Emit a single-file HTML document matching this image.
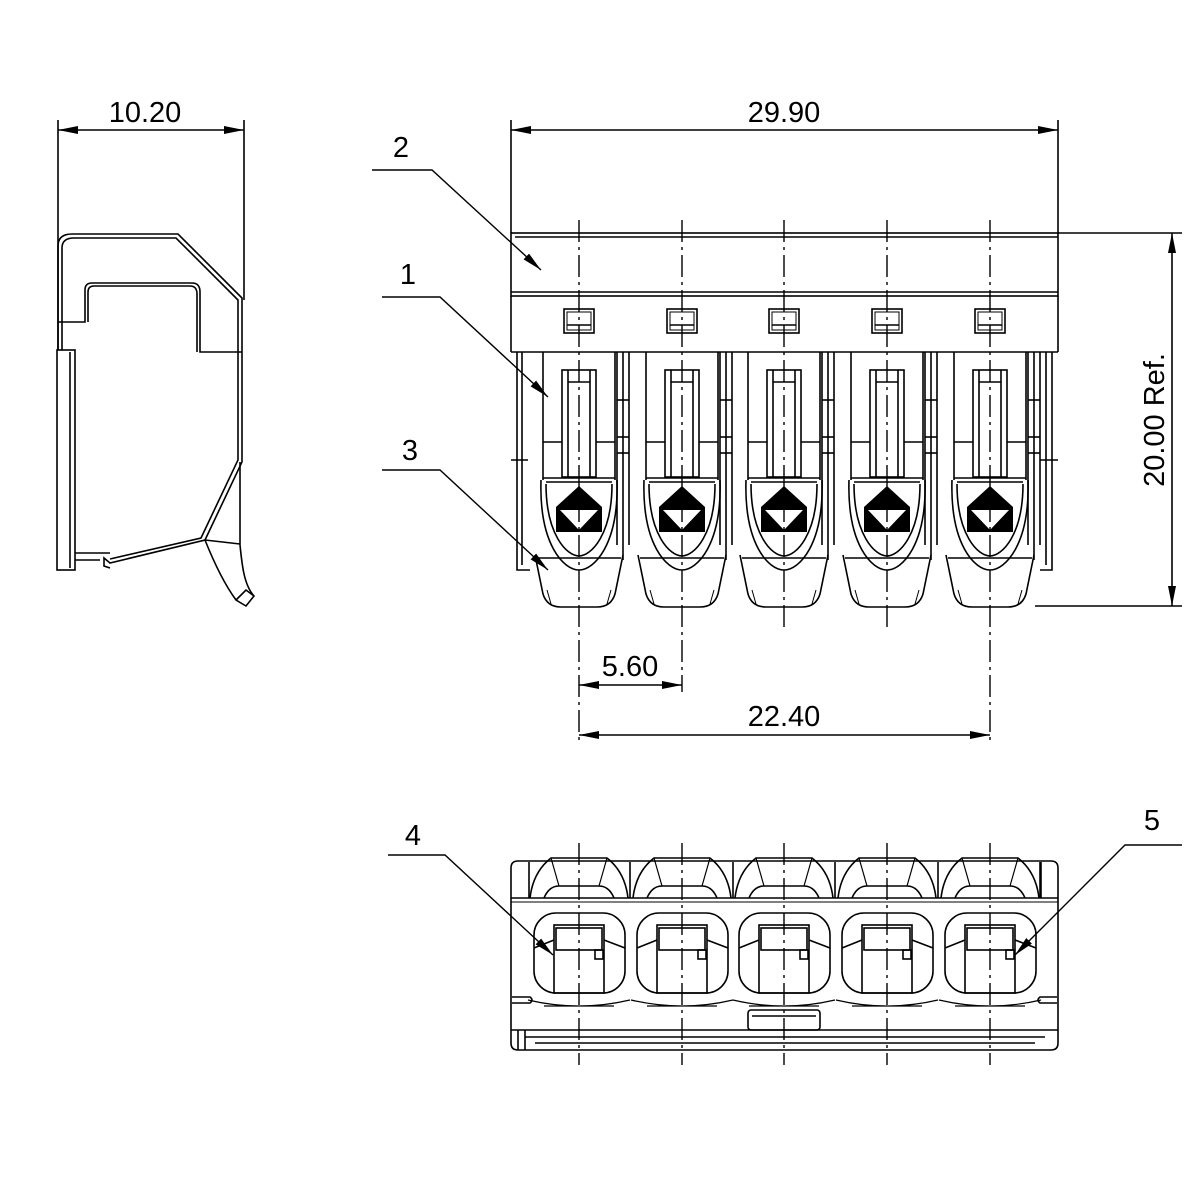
<!DOCTYPE html>
<html><head><meta charset="utf-8"><style>
html,body{margin:0;padding:0;background:#fff}
svg{display:block}
text{font-family:"Liberation Sans",sans-serif;font-size:29px;fill:#000}
</style></head><body>
<svg width="1200" height="1200" viewBox="0 0 1200 1200" xmlns="http://www.w3.org/2000/svg">
<defs>
<marker id="ar" viewBox="0 0 20 8" refX="20" refY="4" markerWidth="20" markerHeight="8" markerUnits="userSpaceOnUse" orient="auto-start-reverse"><path d="M0,0 L20,4 L0,8 Z" fill="#000"/></marker>
<g id="pole" fill="none" stroke="#000" stroke-width="1.6">
  <rect x="-15" y="309" width="30" height="24"/>
  <rect x="-12" y="312" width="24" height="18" stroke-width="1"/>
  <line x1="-12" y1="325" x2="12" y2="325"/>
  <line x1="-36" y1="352" x2="-36" y2="480"/>
  <line x1="36" y1="352" x2="36" y2="480"/>
  <rect x="-17" y="370" width="34" height="107"/>
  <line x1="-11" y1="370" x2="-11" y2="477"/><line x1="11" y1="370" x2="11" y2="477"/>
  <line x1="-11" y1="382" x2="11" y2="382"/>
  <line x1="-36" y1="442" x2="-17" y2="442"/><line x1="17" y1="442" x2="36" y2="442"/>
  <line x1="-36" y1="478" x2="36" y2="478"/>
  <line x1="-33" y1="482" x2="33" y2="482"/>
  <path d="M-38,480 C-40,545 -15,570 0,570 C15,570 40,545 38,480"/>
  <path d="M-33,484 C-33,535 -12,556 0,556 C12,556 33,535 33,484"/>
  <line x1="-42" y1="558" x2="42" y2="558"/>
  <path d="M-44,555 L-36,594 Q-32,607 -18,607 L18,607 Q32,607 36,594 L44,555"/>
  <path d="M-32,590 L-28,604 M32,590 L28,604" stroke-width="1"/>
  <path d="M-23,507 L0,486 L23,507 L23,532 L-23,532 Z" fill="#000" stroke="none"/>
  <path d="M-19,510 L19,510 L0,530 Z" fill="#fff" stroke="none"/>
  <line x1="38" y1="352" x2="38" y2="545"/><line x1="44" y1="352" x2="44" y2="560"/><line x1="50" y1="352" x2="50" y2="545"/>
  <line x1="38" y1="437" x2="50" y2="437"/><line x1="38" y1="453" x2="50" y2="453"/>
  <line x1="38" y1="400" x2="50" y2="400"/>
</g>
<g id="bpole" fill="none" stroke="#000" stroke-width="1.6">
  <path d="M-49,898 Q-46,872 -28,858 L28,858 Q46,872 49,898"/>
  <path d="M-35,898 Q-30,886 -20,886 L20,886 Q30,886 35,898"/>
  <path d="M-28,858 L-20,886 M28,858 L20,886" stroke-width="1.2"/>
  <line x1="51" y1="862" x2="51" y2="898"/>
  <rect x="-45" y="913" width="91" height="80" rx="22"/>
  <rect x="-25" y="925" width="50" height="68"/>
  <rect x="-23" y="928" width="46" height="22"/>
  <rect x="16" y="950" width="8" height="9"/>
  <path d="M-45,948 L-25,940 M46,948 L25,940"/>
  <path d="M-51,1000 Q0,1012 51,1000 M-35,1006 L35,1006" stroke-width="1.2"/>
</g>
</defs>

<!-- SIDE VIEW -->
<g fill="none" stroke="#000" stroke-width="1.6">
  <line x1="58" y1="120" x2="58" y2="350"/>
  <line x1="244" y1="120" x2="244" y2="300"/>
  <line x1="58" y1="130" x2="244" y2="130" marker-start="url(#ar)" marker-end="url(#ar)"/>
  <path d="M58,350 L58,246 Q58,234 72,234 L178,234 L242,298 L242,462 L205,540 L110,563 L104,558 L104,566 L110,568"/>
  <path d="M62,350 L62,248 Q62,238 74,238 L176,238 L238,300 L238,460 L201,538 L110,559"/>
  <path d="M58,322 L85,322 L85,290 Q85,283 92,283 L192,283 Q200,283 200,292 L200,352 L242,352"/>
  <path d="M88,322 L88,292 Q88,286 94,286 L190,286 Q197,286 197,294 L197,352"/>
  <rect x="57" y="350" width="18" height="220"/>
  <line x1="70" y1="352" x2="70" y2="568"/>
  <path d="M75,553 L110,553 M75,560 L100,560"/>
  <path d="M205,540 C215,565 225,585 236,600 L246,606 L254,596 C244,585 242,565 240,545"/>
  <path d="M205,540 L240,544 M236,600 L246,590 L254,596"/>
  <line x1="240" y1="462" x2="240" y2="545"/>
</g>
<text x="145" y="122" text-anchor="middle">10.20</text>

<!-- FRONT VIEW -->
<g fill="none" stroke="#000" stroke-width="1.6">
  <line x1="511" y1="120" x2="511" y2="233"/>
  <line x1="1058" y1="120" x2="1058" y2="233"/>
  <line x1="511" y1="130" x2="1058" y2="130" marker-start="url(#ar)" marker-end="url(#ar)"/>
  <rect x="511" y="233" width="547" height="63"/>
  <line x1="515" y1="237" x2="1058" y2="237"/>
  <line x1="511" y1="292" x2="1058" y2="292"/>
  <line x1="511" y1="296" x2="511" y2="352"/><line x1="1058" y1="296" x2="1058" y2="352"/>
  <line x1="511" y1="352" x2="1058" y2="352"/>
  <path d="M517,352 L517,570 L530,570 M522,352 L522,565"/>
  <line x1="511" y1="460" x2="528" y2="460"/>
  <path d="M1052,352 L1052,570 L1040,570 M1046,352 L1046,565 M1040,460 L1058,460"/>
  <line x1="1058" y1="233" x2="1182" y2="233"/>
  <line x1="1035" y1="606" x2="1182" y2="606"/>
  <line x1="1172" y1="233" x2="1172" y2="606" marker-start="url(#ar)" marker-end="url(#ar)"/>
</g>
<use href="#pole" x="579"/><use href="#pole" x="682"/><use href="#pole" x="784"/><use href="#pole" x="887"/><use href="#pole" x="990"/>
<g fill="none" stroke="#000" stroke-width="1.4" stroke-dasharray="22,5,3,5">
  <line x1="579" y1="220" x2="579" y2="745"/>
  <line x1="682" y1="220" x2="682" y2="692"/>
  <line x1="784" y1="220" x2="784" y2="628"/>
  <line x1="887" y1="220" x2="887" y2="628"/>
  <line x1="990" y1="220" x2="990" y2="745"/>
</g>
<g fill="none" stroke="#000" stroke-width="1.6">
  <line x1="579" y1="685" x2="682" y2="685" marker-start="url(#ar)" marker-end="url(#ar)"/>
  <line x1="579" y1="735" x2="990" y2="735" marker-start="url(#ar)" marker-end="url(#ar)"/>
</g>
<text x="784" y="122" text-anchor="middle">29.90</text>
<text x="630" y="676" text-anchor="middle">5.60</text>
<text x="784" y="726" text-anchor="middle">22.40</text>
<text x="0" y="0" text-anchor="middle" transform="translate(1164,420) rotate(-90)">20.00 Ref.</text>

<!-- leaders -->
<g fill="none" stroke="#000" stroke-width="1.4">
  <path d="M372,170 L432,170 L541,270" marker-end="url(#ar)"/>
  <path d="M382,297 L440,297 L548,397" marker-end="url(#ar)"/>
  <path d="M382,470 L440,470 L548,570" marker-end="url(#ar)"/>
  <path d="M388,855 L445,855 L553,955" marker-end="url(#ar)"/>
  <path d="M1182,845 L1125,845 L1015,955" marker-end="url(#ar)"/>
</g>
<text x="401" y="157" text-anchor="middle" font-size="34">2</text>
<text x="408" y="284" text-anchor="middle" font-size="34">1</text>
<text x="410" y="460" text-anchor="middle" font-size="34">3</text>
<text x="413" y="845" text-anchor="middle" font-size="34">4</text>
<text x="1152" y="830" text-anchor="middle" font-size="34">5</text>

<!-- BOTTOM VIEW -->
<g fill="none" stroke="#000" stroke-width="1.6">
  <path d="M511,868 Q511,861 518,861 L1051,861 Q1058,861 1058,868 L1058,1043 Q1058,1050 1051,1050 L518,1050 Q511,1050 511,1043 Z"/>
  <line x1="511" y1="898" x2="1058" y2="898"/>
  <line x1="511" y1="902" x2="1058" y2="902" stroke-width="1"/>
  <line x1="529" y1="862" x2="529" y2="898"/><line x1="1040" y1="862" x2="1040" y2="898"/>
  <line x1="511" y1="1030" x2="1058" y2="1030"/>
  <line x1="525" y1="1037" x2="1045" y2="1037"/>
  <line x1="535" y1="1043" x2="1035" y2="1043"/>
  <line x1="518" y1="1030" x2="518" y2="1050"/><line x1="525" y1="1030" x2="525" y2="1050"/>
  <rect x="748" y="1010" width="72" height="20" rx="3"/>
  <line x1="752" y1="1016" x2="816" y2="1016"/>
  <path d="M512,997 L530,997 Q534,1000 530,1003 L512,1003"/>
  <path d="M1057,997 L1040,997 Q1036,1000 1040,1003 L1057,1003"/>
</g>
<use href="#bpole" x="579"/><use href="#bpole" x="682"/><use href="#bpole" x="784"/><use href="#bpole" x="887"/><use href="#bpole" x="990"/>
<g fill="none" stroke="#000" stroke-width="1.4" stroke-dasharray="22,5,3,5">
  <line x1="579" y1="843" x2="579" y2="1065"/>
  <line x1="682" y1="843" x2="682" y2="1065"/>
  <line x1="784" y1="843" x2="784" y2="1065"/>
  <line x1="887" y1="843" x2="887" y2="1065"/>
  <line x1="990" y1="843" x2="990" y2="1065"/>
</g>
</svg>
</body></html>
